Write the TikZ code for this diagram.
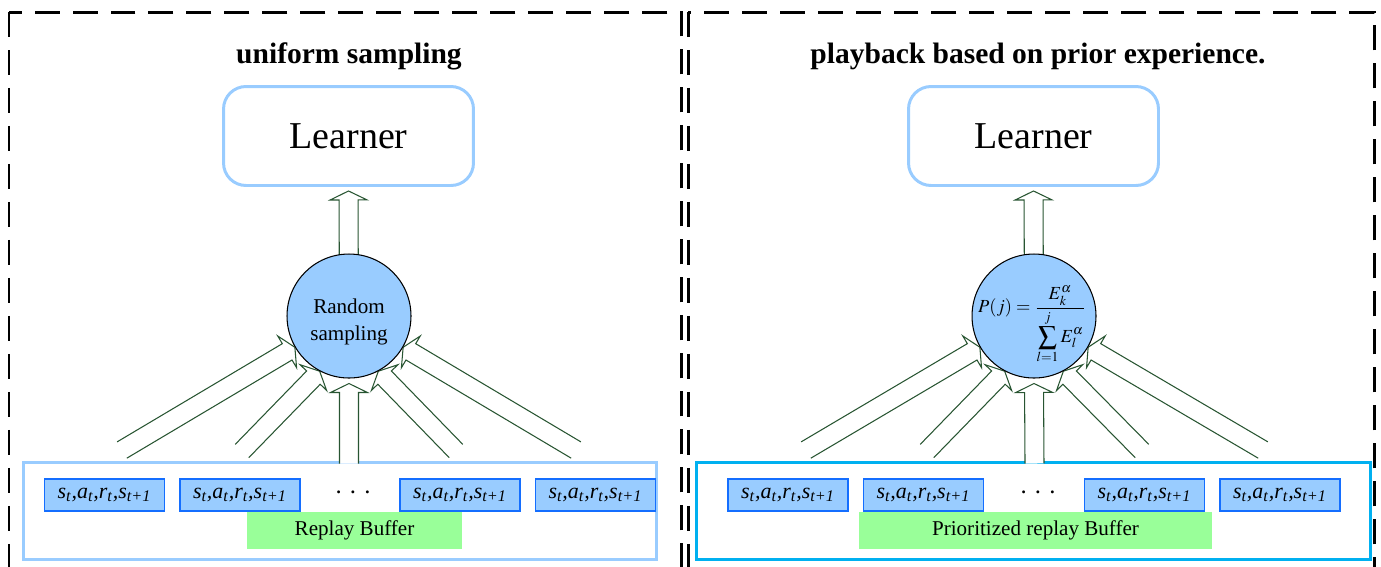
\documentclass[tikz,border=0pt]{standalone}
\usepackage{amsmath}
\usepackage{mathptmx}
\usepackage[no-math]{fontspec}
\setmainfont{Liberation Serif}
\usepackage{xcolor}
\usetikzlibrary{calc,positioning}

\definecolor{lightblue}{RGB}{153,204,255}
\definecolor{cyanblue}{RGB}{0,176,240}
\definecolor{tupleblue}{RGB}{20,110,255}
\definecolor{lightgreen}{RGB}{153,255,153}
\definecolor{arrowgreen}{RGB}{40,85,50}

\pgfdeclarelayer{back}
\pgfdeclarelayer{mid}
\pgfsetlayers{back,mid,main}

% transition tuple
\newcommand{\sars}{s\textsubscript{t},a\textsubscript{t},r\textsubscript{t},s\textsubscript{t+1}}

% hollow block arrow, open at its base
\newcommand{\hollowarrow}[2]{%
  \coordinate (hb) at ($(#2)!5.1pt!(#1)$);
  \filldraw[myarrow] ($(#1)!5.4pt!90:(#2)$) -- ($(hb)!5.4pt!90:(#2)$)
    -- ($(hb)!10.5pt!90:(#2)$) -- (#2) -- ($(hb)!10.5pt!-90:(#2)$)
    -- ($(hb)!5.4pt!-90:(#2)$) -- ($(#1)!5.4pt!-90:(#2)$);
}

\begin{document}
\begin{tikzpicture}[
    x=0.02cm, y=-0.02cm,
    mytitle/.style={anchor=base, font=\fontsize{16.8}{20}\selectfont\bfseries},
    mylearner/.style={
    draw=lightblue,
    line width=1.7pt,
    rounded corners=0.45cm,
    minimum width=5cm,
    minimum height=1.98cm,
    font=\fontsize{21.6}{24}\selectfont},
    mycircle/.style={
    circle,
    draw=black,
    line width=0.6pt,
    fill=lightblue,
    inner sep=0pt,
    minimum size=2.48cm},
    mytuple/.style={
    draw=tupleblue,
    line width=0.8pt,
    fill=lightblue,
    inner sep=0pt,
    minimum width=2.4cm,
    minimum height=0.64cm,
    font=\fontsize{12.5}{14}\selectfont\itshape},
    mylabel/.style={
    fill=lightgreen,
    inner sep=0pt,
    minimum height=0.74cm,
    font=\fontsize{12}{14}\selectfont},
    myframe/.style={line width=1.7pt, inner sep=0pt, minimum height=1.94cm},
    mypanel/.style={line width=1.7pt, dash pattern=on 0.5cm off 0.26cm},
    myarrow/.style={draw=arrowgreen, fill=white, line width=0.6pt, line join=miter}
    ]
    \useasboundingbox (0,0) rectangle (1381,566);
    \clip (0,0) rectangle (1381,566);

    \draw[mypanel] (9,12) rectangle (681,600);
    \draw[mypanel] (688,12) rectangle (1374,600);

    % uniform sampling
    \node[mytitle] (ltitle) at (349,63) {uniform sampling};
    \node[mylearner] (llrn) at (348.5,136) {Learner};
    \node[mycircle] (lrs) at (349,316) {};
    \node[align=center, font=\fontsize{12}{15.4}\selectfont] (lrstext) at (349,322) {Random\\sampling};

    \node[mytuple] (lt1) at (104.5,495) {\sars};
    \node[mytuple, right=0.28cm of lt1] (lt2) {\sars};
    \node[anchor=base, font=\fontsize{14}{14}\selectfont] (ldots) at (353,500) {· · ·};
    \node[mytuple] (lt3) at (460,495) {\sars};
    \node[mytuple, right=0.28cm of lt3] (lt4) {\sars};
    \node[mylabel, minimum width=4.3cm] (lbuf) at (354.5,530.5) {Replay Buffer};
    \begin{pgfonlayer}{back}
    \node[myframe, draw=lightblue, minimum width=12.66cm] (lframe) at (340,510.5) {};
    \end{pgfonlayer}

    \coordinate (lin) at ($(llrn.south)+(0,4)$);
    \coordinate (lout) at ($(lrs.south)+(0,5)$);
    \coordinate (lb0) at (349,463.5);
    \coordinate (lb1) at (122,450);
    \coordinate (lb2) at (242,451);
    \coordinate (lb3) at (456,451);
    \coordinate (lb4) at (576,450);

    \begin{pgfonlayer}{mid}
    \hollowarrow{lrs.center}{lin}
    \hollowarrow{lb0}{lout}
    \hollowarrow{lb1}{lrs.210}
    \hollowarrow{lb2}{lrs.242}
    \hollowarrow{lb3}{lrs.298}
    \hollowarrow{lb4}{lrs.330}
    \end{pgfonlayer}

    % prioritized replay
    \node[mytitle] (rtitle) at (1038,63) {playback based on prior experience.};
    \node[mylearner] (rlrn) at (1033.5,136) {Learner};
    \node[mycircle] (rps) at (1034,316) {};
    \node[inner sep=0pt, font=\fontsize{10.5}{12}\selectfont] (rpstext) at (1032,325)
        {$P(j)=\dfrac{E_k^{\alpha}}{\displaystyle\sum_{l=1}^{j}E_l^{\alpha}}$};

    \node[mytuple] (rt1) at (788,495) {\sars};
    \node[mytuple, right=0.28cm of rt1] (rt2) {\sars};
    \node[anchor=base, font=\fontsize{14}{14}\selectfont] (rdots) at (1038,500) {· · ·};
    \node[mytuple] (rt3) at (1144.5,495) {\sars};
    \node[mytuple, right=0.28cm of rt3] (rt4) {\sars};
    \node[mylabel, minimum width=7.06cm] (rbuf) at (1035.5,530.5) {Prioritized replay Buffer};
    \begin{pgfonlayer}{back}
    \node[myframe, draw=cyanblue, minimum width=13.48cm] (rframe) at (1033.5,510.5) {};
    \end{pgfonlayer}

    \coordinate (rin) at ($(rlrn.south)+(0,4)$);
    \coordinate (rout) at ($(rps.south)+(0,5)$);
    \coordinate (rb0) at (1034.5,463.5);
    \coordinate (rb1) at (806,450);
    \coordinate (rb2) at (927,451);
    \coordinate (rb3) at (1142,451);
    \coordinate (rb4) at (1263,450);

    \begin{pgfonlayer}{mid}
    \hollowarrow{rps.center}{rin}
    \hollowarrow{rb0}{rout}
    \hollowarrow{rb1}{rps.210}
    \hollowarrow{rb2}{rps.242}
    \hollowarrow{rb3}{rps.298}
    \hollowarrow{rb4}{rps.330}
    \end{pgfonlayer}
\end{tikzpicture}
\end{document}
